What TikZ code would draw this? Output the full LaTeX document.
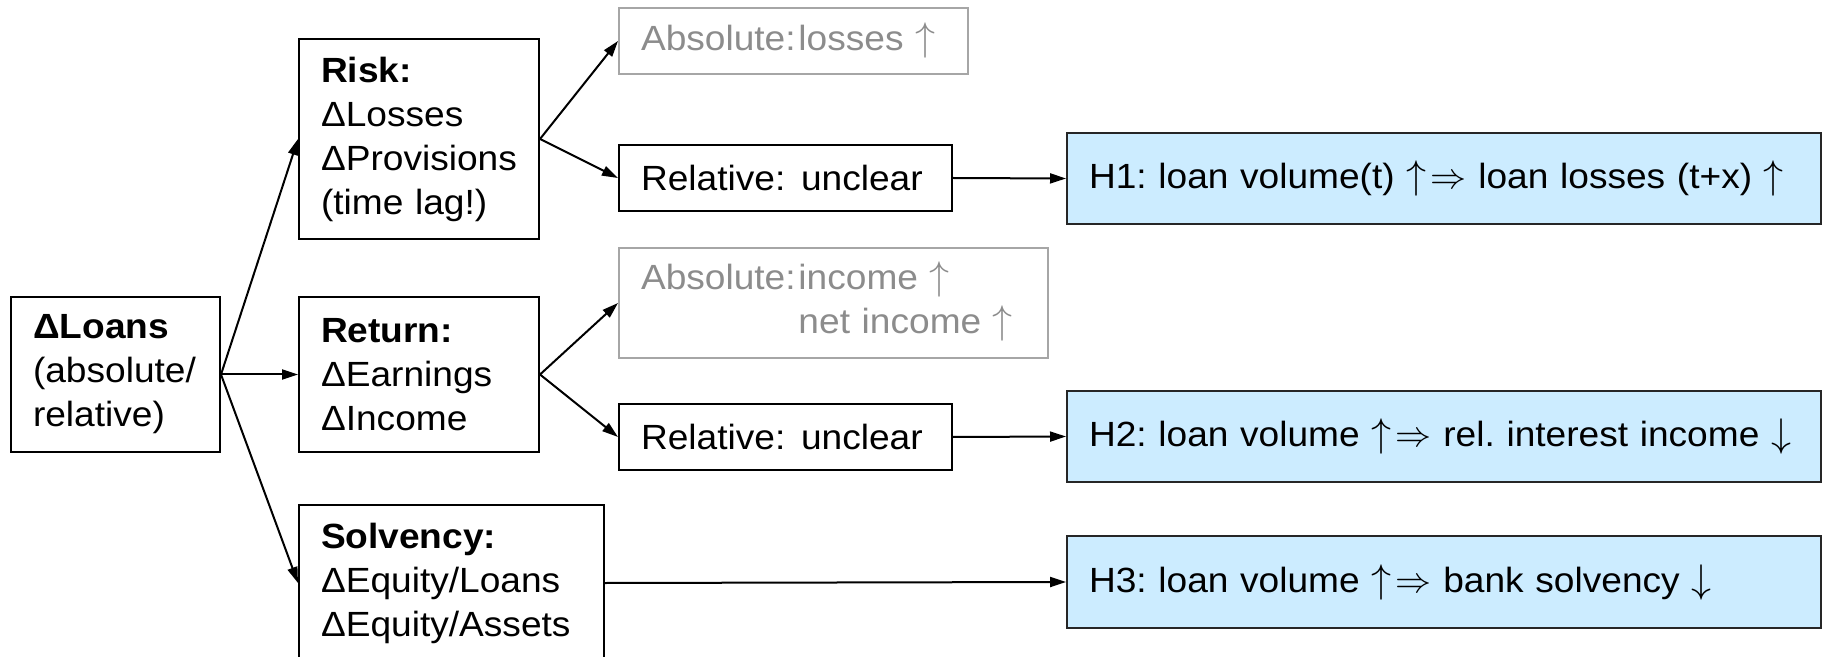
\documentclass[tikz,border=0pt]{standalone}
\usepackage{fix-cm}
\usepackage{fontspec}
\setmainfont{Liberation Sans}[FakeStretch=1.06]
\usetikzlibrary{arrows.meta}
\definecolor{hblue}{HTML}{CCECFF}
\definecolor{gtext}{HTML}{8C8C8C}
\definecolor{gline}{HTML}{A6A6A6}
\newcommand{\myup}{{\fontsize{20}{22}\selectfont$\uparrow$}}
\newcommand{\mydown}{{\fontsize{20}{22}\selectfont$\downarrow$}}
\newcommand{\myimp}{{\fontsize{18}{22}\selectfont$\Rightarrow$}}
\begin{document}
\frenchspacing
\begin{tikzpicture}[x=0.5pt,y=-0.5pt,
  font=\fontsize{17.5}{22}\selectfont,
  box/.style={draw=black, line width=1pt, anchor=north west, inner xsep=11pt, inner ysep=0pt, align=left},
  gbox/.style={box, draw=gline, text=gtext},
  hbox/.style={box, fill=hblue, draw=black!85},
  conn/.style={line width=1pt, -{Triangle[length=8pt,width=5pt]}}]
\useasboundingbox (0,0) rectangle (1824,657);
% left column
\node[box, text width=82.5pt, minimum height=77.5pt] (loans) at (10,296)
  {\textbf{ΔLoans}\\(absolute/\\relative)};
% middle column
\node[box, text width=98pt, minimum height=100pt] (risk) at (298,38)
  {\textbf{Risk:}\\ΔLosses\\ΔProvisions\\(time lag!)};
\node[box, text width=98pt, minimum height=77.5pt] (ret) at (298,296)
  {\textbf{Return:}\\ΔEarnings\\ΔIncome};
\node[box, text width=130.5pt, minimum height=78pt] (solv) at (298,504)
  {\textbf{Solvency:}\\ΔEquity/Loans\\ΔEquity/Assets};
% third column
\node[gbox, text width=152.5pt, minimum height=33pt] (abs1) at (618,7)
  {Absolute:\hspace{0.08em}losses \myup};
\node[box, text width=144.5pt, minimum height=33pt] (rel1) at (618,144)
  {Relative:\hspace{0.45em}unclear};
\node[gbox, text width=192.5pt, minimum height=55pt] (abs2) at (618,247)
  {\begin{tabular}{@{}l@{\hspace{0.08em}}l@{}}Absolute: & income \myup\\ & net income \myup\end{tabular}};
\node[box, text width=144.5pt, minimum height=33pt] (rel2) at (618,403)
  {Relative:\hspace{0.45em}unclear};
% hypotheses
\node[hbox, text width=355pt, minimum height=45.5pt] (h1) at (1066,132)
  {H1: loan volume(t) \myup\hspace{0.12em}\myimp\ loan losses (t+x) \myup};
\node[hbox, text width=355pt, minimum height=45.5pt] (h2) at (1066,390)
  {H2: loan volume \myup\hspace{0.12em}\myimp\ rel. interest income \mydown};
\node[hbox, text width=355pt, minimum height=46pt] (h3) at (1066,535)
  {H3: loan volume \myup\hspace{0.12em}\myimp\ bank solvency \mydown};
% connectors
\draw[conn] (loans.east) -- (risk.west);
\draw[conn] (loans.east) -- (ret.west);
\draw[conn] (loans.east) -- (solv.west);
\draw[conn] (risk.east) -- (abs1.west);
\draw[conn] (risk.east) -- (rel1.west);
\draw[conn] (ret.east) -- (abs2.west);
\draw[conn] (ret.east) -- (rel2.west);
\draw[conn] (rel1.east) -- (h1.west);
\draw[conn] (rel2.east) -- (h2.west);
\draw[conn] (solv.east) -- (h3.west);
\end{tikzpicture}
\end{document}
